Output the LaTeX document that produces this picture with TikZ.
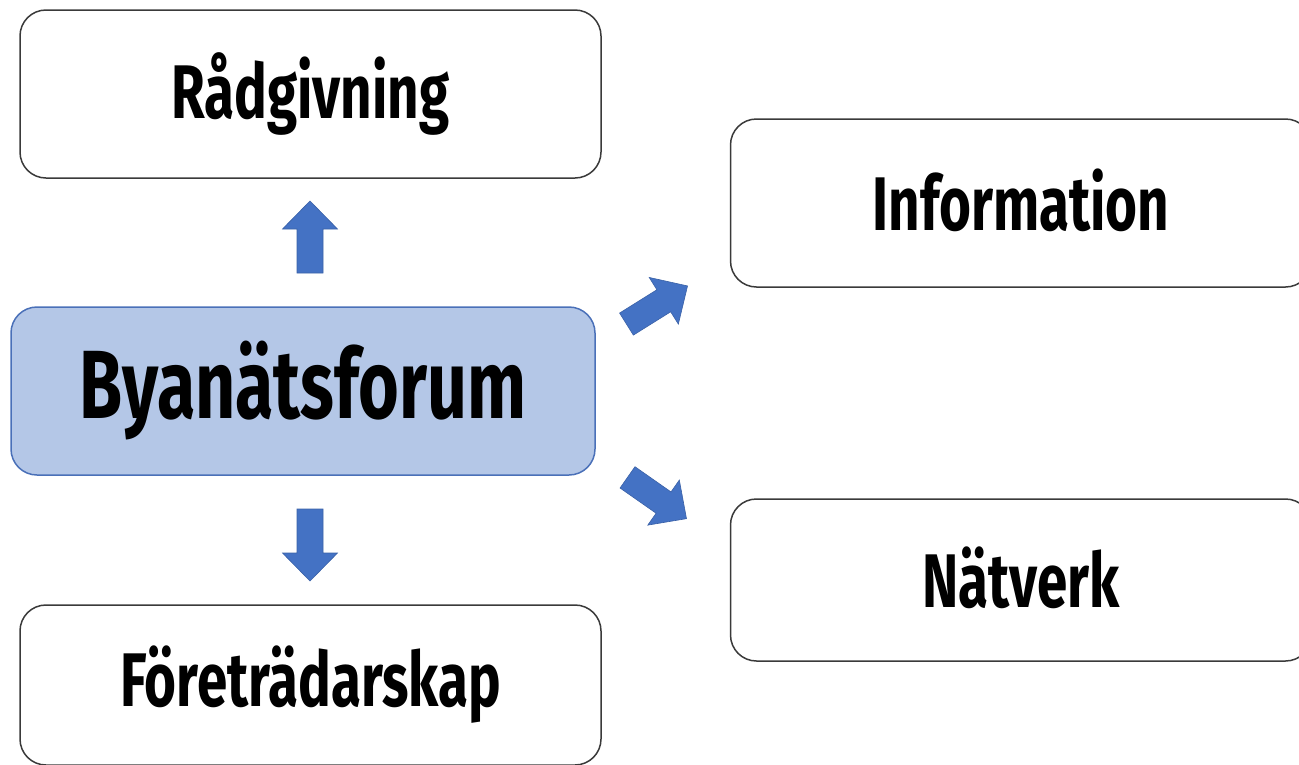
\documentclass[tikz,border=0pt]{standalone}
\usepackage{fontspec}
\newfontfamily\osw{Fira Sans}[FakeStretch=0.72]
\definecolor{boxline}{HTML}{3A3A3A}
\definecolor{bluefill}{HTML}{B4C7E7}
\definecolor{blueline}{HTML}{4A70B8}
\definecolor{arrowblue}{HTML}{4472C4}
\tikzset{
  box/.style={draw=boxline, line width=1.5pt, rounded corners=26pt, fill=white,
    minimum width=581pt, minimum height=168pt, inner sep=0pt,
    font=\osw\bfseries\fontsize{76}{80}\selectfont},
  mainbox/.style={box, draw=blueline, fill=bluefill, minimum width=584pt,
    font=\osw\bfseries\fontsize{97}{101}\selectfont},
  blockarrow/.style={fill=arrowblue, draw=arrowblue!85!black, line width=0.6pt, line join=miter}
}
\begin{document}
\begin{tikzpicture}[x=1pt,y=-1pt]
\useasboundingbox (0,0) rectangle (1299,764);
\clip (0,0) rectangle (1299,764);
\node[box] (rad) at (310.5,94) {Rådgivning};
\node[mainbox] (bya) at (303,391) {Byanätsforum};
\node[box, minimum height=160pt] (for) at (310.5,685) {Företrädarskap};
\node[box, text depth=6pt] (inf) at (1021,203) {Information};
\node[box, minimum height=162pt, text depth=6pt] (nat) at (1021,580) {Nätverk};
% block arrows
\foreach \cx/\cy/\ang in {310/237/90, 310/545/-90, 657/305/32, 657/498/-35}{
  \draw[blockarrow, shift={(\cx,\cy)}, rotate=\ang]
    (-36,-13) -- (8,-13) -- (8,-27.5) -- (36,0) -- (8,27.5) -- (8,13) -- (-36,13) -- cycle;
}
\end{tikzpicture}
\end{document}
